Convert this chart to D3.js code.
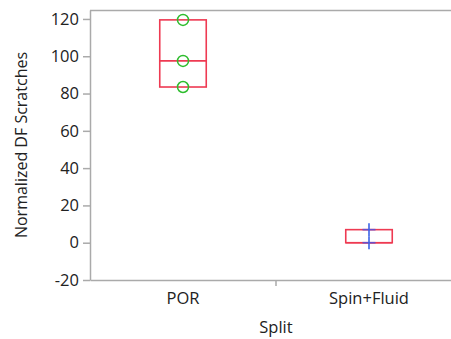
<!DOCTYPE html>
<html><head><meta charset="utf-8">
<script src="https://cdn.jsdelivr.net/npm/d3@7"></script>
<style>body{margin:0;background:#fff}svg{display:block}text{font-family:"Open Sans","Noto Sans",sans-serif;fill:#222}</style>
</head><body><svg id="c" width="451" height="339"></svg>
<script>
const categories = ["POR", "Spin+Fluid"];
const porPoints = [119.5, 97.5, 83.5];
const spinPoints = [7, 0];
const boxQ1 = [83.5, 0];
const boxMedian = [97.5, 0];
const boxQ3 = [119.5, 7];
const yTicks = [-20, 0, 20, 40, 60, 80, 100, 120];

const svg = d3.select("#c");
const W = 451, H = 339;
const m = {l: 90, t: 10, b: 280, r: 462};
const x = d3.scaleBand().domain(categories).range([m.l, m.r]);
const y = d3.scaleLinear().domain([-20, 124.8]).range([m.b, m.t]);
const axisCol = "#aaaaaa";

// frame
svg.append("line").attr("x1", m.l).attr("x2", W).attr("y1", m.t + 0.5).attr("y2", m.t + 0.5).attr("stroke", axisCol).attr("stroke-width", 1.5);

const ya = svg.append("g").attr("transform", `translate(${m.l},0)`)
  .call(d3.axisLeft(y).tickValues(yTicks).tickFormat(d => String(d)).tickSize(7).tickPadding(4).tickSizeOuter(0));
ya.select(".domain").attr("stroke", axisCol).attr("stroke-width", 1.5);
ya.selectAll(".tick line").attr("stroke", axisCol).attr("stroke-width", 1.5);
ya.selectAll(".tick text").style("font-size", "16.5px").attr("fill", "#222");

const xa = svg.append("g").attr("transform", `translate(0,${m.b})`)
  .call(d3.axisBottom(x).tickSize(0).tickPadding(12).tickSizeOuter(0));
xa.select(".domain").attr("stroke", axisCol).attr("stroke-width", 1.5);
xa.selectAll(".tick text").style("font-size", "16.5px").attr("fill", "#222");
// divider tick between categories
svg.append("line").attr("x1", x("Spin+Fluid")).attr("x2", x("Spin+Fluid"))
  .attr("y1", m.b).attr("y2", m.b + 6).attr("stroke", axisCol).attr("stroke-width", 1.5);

svg.append("text").attr("transform", `translate(27,145) rotate(-90)`).attr("text-anchor", "middle")
  .style("font-size", "16px").text("Normalized DF Scratches");
svg.append("text").attr("x", 276).attr("y", 333).attr("text-anchor", "middle")
  .style("font-size", "16.5px").text("Split");

// boxes
const boxW = x.bandwidth() * 0.25;
const red = "#ee3a52";
categories.forEach((c, i) => {
  const cx = x(c) + x.bandwidth() / 2;
  svg.append("rect").attr("x", cx - boxW / 2).attr("y", y(boxQ3[i])).attr("width", boxW)
    .attr("height", y(boxQ1[i]) - y(boxQ3[i])).attr("fill", "none").attr("stroke", red).attr("stroke-width", 1.6);
  svg.append("line").attr("x1", cx - boxW / 2).attr("x2", cx + boxW / 2)
    .attr("y1", y(boxMedian[i])).attr("y2", y(boxMedian[i])).attr("stroke", red).attr("stroke-width", 1.6);
});

// POR points
const cPOR = x("POR") + x.bandwidth() / 2;
svg.selectAll(".por").data(porPoints).enter().append("circle")
  .attr("cx", cPOR).attr("cy", d => y(d)).attr("r", 5.5)
  .attr("fill", "none").attr("stroke", "#2ebd2e").attr("stroke-width", 1.5);

// Spin points (plus)
const cSp = x("Spin+Fluid") + x.bandwidth() / 2;
const pg = svg.selectAll(".sp").data(spinPoints).enter().append("g")
  .attr("transform", d => `translate(${cSp},${y(d)})`);
pg.append("line").attr("x1", -6.5).attr("x2", 6.5).attr("stroke", "#6a4fc8").attr("stroke-width", 1.6);
pg.append("line").attr("y1", -6.5).attr("y2", 6.5).attr("stroke", "#3a62e8").attr("stroke-width", 1.6);
</script></body></html>
